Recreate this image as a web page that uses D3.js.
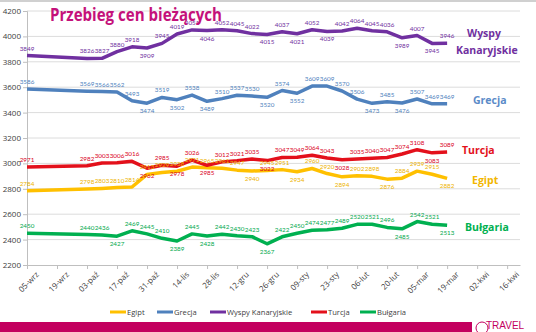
<!DOCTYPE html>
<html>
<head>
<meta charset="utf-8">
<script src="https://cdn.jsdelivr.net/npm/d3@7"></script>
<style>
	body { margin: 0; background: #fff; }
	svg { display: block; font-family: "Open Sans", sans-serif; }
</style>
</head>
<body>
<div class="chart"></div>
<script>
// data (season 2015/2016, weekly prices)
var dates = ["2015-09-05", "2015-10-03", "2015-10-10", "2015-10-17", "2015-10-24", "2015-10-31",
	"2015-11-07", "2015-11-14", "2015-11-21", "2015-11-28", "2015-12-05", "2015-12-12", "2015-12-19",
	"2015-12-26", "2016-01-02", "2016-01-09", "2016-01-16", "2016-01-23", "2016-01-30", "2016-02-06",
	"2016-02-13", "2016-02-20", "2016-02-27", "2016-03-05", "2016-03-12", "2016-03-19"];
var egipt = [2784, 2798, 2803, 2810, 2814, 2913, 2929, 2938, 2971, 2965, 2961, 2947, 2940, 2945, 2951, 2934, 2960, 2920, 2894, 2902, 2898, 2876, 2884, 2939, 2915, 2882];
var grecja = [3586, 3569, 3566, 3562, 3493, 3474, 3519, 3502, 3538, 3489, 3510, 3537, 3530, 3520, 3574, 3552, 3609, 3609, 3570, 3506, 3473, 3485, 3476, 3507, 3469, 3469];
var wyspy = [3849, 3826, 3827, 3880, 3918, 3909, 3945, 4019, 4051, 4046, 4052, 4045, 4022, 4015, 4037, 4021, 4052, 4039, 4042, 4064, 4045, 4036, 3989, 4007, 3945, 3946];
var turcja = [2971, 2982, 3003, 3006, 3016, 2962, 2985, 2978, 3026, 2985, 3012, 3021, 3035, 3022, 3047, 3049, 3064, 3043, 3028, 3035, 3040, 3047, 3074, 3108, 3083, 3089];
var bulgaria = [2450, 2440, 2436, 2427, 2469, 2445, 2410, 2389, 2445, 2428, 2442, 2430, 2423, 2367, 2422, 2450, 2474, 2477, 2489, 2520, 2521, 2496, 2485, 2542, 2521, 2513];
var seriesNames = ["Egipt", "Grecja", "Wyspy Kanaryjskie", "Turcja", "Bułgaria"];
var yTicks = [2200, 2400, 2600, 2800, 3000, 3200, 3400, 3600, 3800, 4000, 4200];
var monthsPl = ["sty", "lut", "mar", "kwi", "maj", "cze", "lip", "sie", "wrz", "paź", "lis", "gru"];

var W = 536, H = 332;
var colors = {"Egipt": "#FFC000", "Grecja": "#4F81BD", "Wyspy Kanaryjskie": "#7030A0", "Turcja": "#E3101B", "Bułgaria": "#00B050"};
var textColors = {"Egipt": "#EDB300", "Grecja": "#4F81BD", "Wyspy Kanaryjskie": "#7030A0", "Turcja": "#D9001B", "Bułgaria": "#00A84A"};

var parse = d3.utcParse("%Y-%m-%d");
var series = [
	{name: "Egipt", values: egipt},
	{name: "Grecja", values: grecja},
	{name: "Wyspy Kanaryjskie", values: wyspy},
	{name: "Turcja", values: turcja},
	{name: "Bułgaria", values: bulgaria}
];

var svg = d3.select(".chart").append("svg").attr("width", W).attr("height", H);

// slide bits: grey strip on top, magenta bar at the bottom
svg.append("rect").attr("x", 0).attr("y", 0).attr("width", W).attr("height", 2).attr("fill", "#d0d0d0");

var x = d3.scaleUtc().domain([parse("2015-09-05"), parse("2016-04-22")]).range([27, 520]);
var y = d3.scaleLinear().domain([2200, 4200]).range([265, 11]);

// gridlines
svg.append("g").selectAll("line").data(yTicks.slice(1)).join("line")
	.attr("x1", 27).attr("x2", 520)
	.attr("y1", function(d){ return y(d); }).attr("y2", function(d){ return y(d); })
	.attr("stroke", "#dcdcdc").attr("stroke-width", 1);

// y axis
var yAxis = svg.append("g").attr("transform", "translate(27,0)")
	.call(d3.axisLeft(y).tickValues(yTicks).tickFormat(d3.format("d")).tickSize(4).tickPadding(2));
yAxis.select(".domain").attr("stroke", "#bfbfbf");
yAxis.selectAll(".tick line").attr("stroke", "#bfbfbf");
yAxis.selectAll("text").attr("font-size", "8px").attr("fill", "#404040")
	.attr("font-family", "Open Sans");

// x axis, every 14 days
var xTicks = d3.utcDay.range(parse("2015-09-05"), parse("2016-04-20"), 14);
var fmt = function(d){ return d3.utcFormat("%d")(d) + "-" + monthsPl[d.getUTCMonth()]; };
var xAxis = svg.append("g").attr("transform", "translate(0,265)")
	.call(d3.axisBottom(x).tickValues(xTicks).tickFormat(fmt).tickSize(4).tickSizeOuter(0));
xAxis.select(".domain").attr("stroke", "#bfbfbf");
xAxis.selectAll(".tick line").attr("stroke", "#bfbfbf");
xAxis.selectAll("text").attr("font-size", "8px").attr("fill", "#404040")
	.attr("font-family", "Open Sans")
	.attr("text-anchor", "end")
	.attr("transform", "translate(2,0) rotate(-45)")
	.attr("dx", "0").attr("dy", "0.9em");

// lines
var line = d3.line()
	.x(function(d, i){ return x(parse(dates[i])); })
	.y(function(d){ return y(d); });

svg.append("g").selectAll("path").data(series).join("path")
	.attr("d", function(s){ return line(s.values); })
	.attr("fill", "none")
	.attr("stroke", function(s){ return colors[s.name]; })
	.attr("stroke-width", 3.5)
	.attr("stroke-linejoin", "round");

// data labels: under the line at local minimums, above otherwise
series.forEach(function(s){
	var v = s.values;
	svg.append("g").selectAll("text").data(v).join("text")
		.attr("x", function(d, i){ return x(parse(dates[i])); })
		.attr("y", function(d, i){
			var prev = i > 0 ? v[i - 1] : Infinity;
			var next = i < v.length - 1 ? v[i + 1] : Infinity;
			var below = i > 1 && d < prev && d < next;
			return y(d) + (below ? 10 : -5);
		})
		.attr("text-anchor", "middle")
		.attr("font-size", "6.3px")
		.attr("font-family", "Lato")
		.attr("fill", textColors[s.name])
		.text(function(d){ return d; });
});

// series names at the right
var names = [
	{t: "Wyspy", x: 467, y: 37, c: "#7030A0"},
	{t: "Kanaryjskie", x: 456, y: 54, c: "#7030A0"},
	{t: "Grecja", x: 473, y: 104, c: "#5B8BC8"},
	{t: "Turcja", x: 462, y: 154, c: "#E3101B"},
	{t: "Egipt", x: 472, y: 184, c: "#F2B600"},
	{t: "Bułgaria", x: 465, y: 231, c: "#00B050"}
];
svg.append("g").selectAll("text").data(names).join("text")
	.attr("x", function(d){ return d.x; }).attr("y", function(d){ return d.y; })
	.attr("fill", function(d){ return d.c; })
	.attr("font-size", "10.5px").attr("font-weight", "bold")
	.text(function(d){ return d.t; });

// title
svg.append("text").attr("x", 50).attr("y", 21)
	.attr("fill", "#C4117A").attr("font-size", "17px").attr("font-weight", "bold")
	.attr("textLength", 172).attr("lengthAdjust", "spacingAndGlyphs")
	.text("Przebieg cen bieżących");

// legend
var legendX = [110, 157, 210, 311, 360];
var legend = svg.append("g").selectAll("g").data(seriesNames).join("g")
	.attr("transform", function(d, i){ return "translate(" + legendX[i] + ",312)"; });
legend.append("line").attr("x1", 0).attr("x2", 16).attr("y1", 0).attr("y2", 0)
	.attr("stroke", function(d){ return colors[d]; }).attr("stroke-width", 3);
legend.append("text").attr("x", 17).attr("y", 3)
	.attr("font-size", "7.6px").attr("fill", "#404040")
	.text(function(d){ return d; });

// bottom bar and logo
svg.append("rect").attr("x", 0).attr("y", 322).attr("width", 472).attr("height", 10).attr("fill", "#C3005F");
svg.append("circle").attr("cx", 482).attr("cy", 328).attr("r", 6)
	.attr("fill", "none").attr("stroke", "#C3005F").attr("stroke-width", 1);
svg.append("text").attr("x", 486).attr("y", 329).attr("fill", "#C3005F")
	.attr("font-size", "10px").attr("font-family", "Liberation Sans").text("TRAVEL");
</script>
</body>
</html>
